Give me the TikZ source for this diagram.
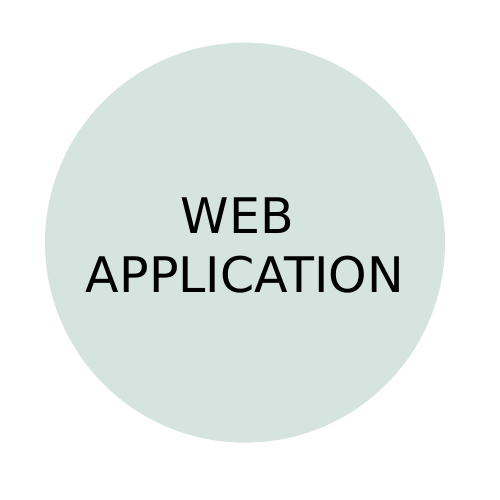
\documentclass[tikz,border=0pt]{standalone}
\usepackage[usenames,dvipsnames]{xcolor}
\usepackage{fontspec}
\setmainfont{DejaVu Sans}
\usepackage{tikz}
\usetikzlibrary{shapes,positioning}
\definecolor{appfill}{HTML}{D5E4DF}
\tikzset{
    appcircle/.style={circle,fill=appfill,minimum size=8cm,inner sep=0pt},
    applabel/.style={align=center,inner sep=0pt,font=\fontsize{27.9pt}{33.6pt}\selectfont}
}

\begin{document}
\begin{tikzpicture}
    \useasboundingbox (0,0) rectangle (10,10);
    \node[appcircle] (app) at (4.9,5.147) {};
    \node[applabel] (applbl) at ([yshift=-0.06cm]app.center) {WEB\hspace*{.32em}\\APPLICATION};
\end{tikzpicture}
\end{document}
